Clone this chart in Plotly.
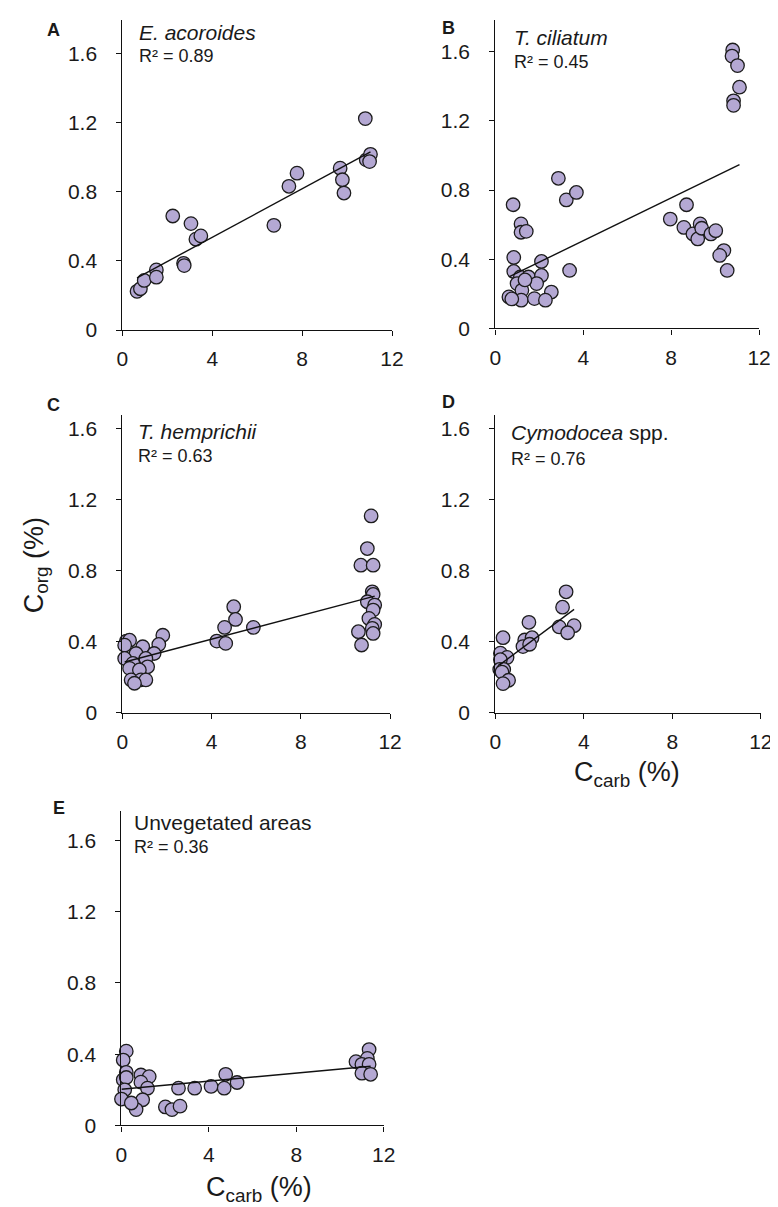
import numpy as np
import plotly.graph_objects as go

# ---------------- data ----------------
# Panel A: E. acoroides
a_x = [0.65, 0.80, 0.97, 1.51, 1.51, 2.24, 2.72, 2.75, 3.05, 3.27, 3.49, 6.74, 7.41, 7.77,
       9.69, 9.79, 9.86, 10.81, 10.85, 11.04, 11.00]
a_y = [0.224, 0.239, 0.287, 0.348, 0.306, 0.66, 0.386, 0.373, 0.616, 0.526, 0.545, 0.606,
       0.832, 0.908, 0.937, 0.870, 0.793, 1.224, 0.985, 1.017, 0.975]

# Panel B: T. ciliatum
b_x = [10.80, 10.77, 11.02, 11.11, 10.84, 10.84,
       2.87, 3.23, 3.69, 3.38,
       0.81, 0.84, 1.17, 1.17, 1.41, 0.84, 1.14, 1.51, 2.10, 2.10, 0.99, 1.88, 1.21, 2.55,
       0.62, 1.18, 1.78, 2.28, 1.35, 0.75,
       7.96, 8.70, 8.58, 8.99, 9.21, 9.32, 9.39, 9.81, 10.03, 10.40, 10.21, 10.55]
b_y = [1.61, 1.575, 1.52, 1.395, 1.316, 1.29,
       0.868, 0.743, 0.786, 0.335,
       0.715, 0.41, 0.604, 0.556, 0.561, 0.329, 0.297, 0.297, 0.306, 0.387, 0.259, 0.259,
       0.220, 0.210, 0.182, 0.163, 0.172, 0.163, 0.28, 0.17,
       0.632, 0.715, 0.584, 0.546, 0.517, 0.604, 0.579, 0.546, 0.565, 0.450, 0.422, 0.335]

# Panel C: T. hemprichii
c_x = [11.15, 10.98, 10.69, 11.24, 11.20, 11.24, 10.98, 11.31, 11.24, 11.05, 11.31, 10.58,
       11.20, 11.24, 10.72,
       4.99, 5.07, 4.58, 5.87, 4.23, 4.63,
       1.81, 1.63, 0.18, 0.32, 0.10, 0.91, 0.61, 1.42, 0.10, 0.47, 1.05, 1.13, 0.32, 0.76,
       0.39, 0.83, 1.05, 0.54]
c_y = [1.109, 0.925, 0.831, 0.831, 0.681, 0.666, 0.625, 0.606, 0.578, 0.531, 0.497, 0.456,
       0.475, 0.446, 0.381,
       0.597, 0.525, 0.480, 0.480, 0.403, 0.390,
       0.436, 0.384, 0.403, 0.408, 0.380, 0.371, 0.333, 0.333, 0.305, 0.277, 0.305, 0.258,
       0.249, 0.240, 0.184, 0.184, 0.184, 0.165]

# Panel D: Cymodocea spp.
d_x = [3.20, 3.04, 1.52, 2.89, 3.56, 3.27, 0.35, 1.33, 1.66, 1.25, 1.55, 0.23, 0.53, 0.23,
       0.20, 0.38, 0.30, 0.60, 0.35]
d_y = [0.681, 0.594, 0.509, 0.483, 0.490, 0.450, 0.422, 0.409, 0.422, 0.372, 0.385, 0.335,
       0.311, 0.298, 0.243, 0.243, 0.228, 0.182, 0.163]

# Panel E: Unvegetated areas
e_x = [0.22, 0.08, 0.22, 0.08, 0.22, 0.89, 1.27, 0.89, 1.19, 0.15, 0.00, 0.97, 0.67, 0.45,
       2.01, 2.31, 2.68, 2.61, 3.35, 4.10, 4.70, 4.77, 5.29,
       11.33, 10.73, 11.25, 11.00, 11.33, 11.00, 11.40]
e_y = [0.417, 0.367, 0.298, 0.256, 0.269, 0.283, 0.274, 0.243, 0.209, 0.200, 0.148, 0.144,
       0.089, 0.126, 0.104, 0.089, 0.108, 0.209, 0.209, 0.219, 0.209, 0.287, 0.241,
       0.426, 0.358, 0.376, 0.343, 0.343, 0.293, 0.287]

panel_letters = ["A", "B", "C", "D", "E"]
species = ["<i>E. acoroides</i>", "<i>T. ciliatum</i>", "<i>T. hemprichii</i>",
           "<i>Cymodocea</i> spp.", "Unvegetated areas"]
r2_labels = ["R² = 0.89", "R² = 0.45", "R² = 0.63", "R² = 0.76", "R² = 0.36"]
x_ticks = [0, 4, 8, 12]
y_ticks = [0, 0.4, 0.8, 1.2, 1.6]
y_ticklabels = ["0", "0.4", "0.8", "1.2", "1.6"]

# ---------------- layout helpers ----------------
W, H = 778, 1207
FONT = "Liberation Sans, Arial, sans-serif"
FILL = "#b4a8d3"
EDGE = "#1c1c1c"
TXT = "#1a1a1a"

def px(x):
    return x / W

def py(y):
    return 1 - y / H

# pixel boxes: (left, right, bottom, top, ymax)
boxes = [
    (111, 387, 325, 11.7, 1.797),
    (492.7, 762.7, 323.3, 11.7, 1.786),
    (111, 385, 711, 411, 1.677),
    (492.7, 764.5, 711, 411, 1.677),
    (110, 378.5, 1127.7, 810, 1.767),
]

datasets = [(a_x, a_y), (b_x, b_y), (c_x, c_y), (d_x, d_y), (e_x, e_y)]

fig = go.Figure()
layout = {}
for i, ((xs, ys), (l, r, b, t, ymax)) in enumerate(zip(datasets, boxes)):
    n = i + 1
    xa = "x" if n == 1 else f"x{n}"
    ya = "y" if n == 1 else f"y{n}"
    fig.add_trace(go.Scatter(
        x=xs, y=ys, mode="markers", xaxis=xa, yaxis=ya, showlegend=False,
        marker=dict(size=13.5, color=FILL, line=dict(color=EDGE, width=1.3)),
        cliponaxis=False))
    # least-squares trend line through the data
    k, c0 = np.polyfit(np.array(xs), np.array(ys), 1)
    lx = np.array([min(xs), max(xs)])
    fig.add_trace(go.Scatter(
        x=lx, y=k * lx + c0, mode="lines", xaxis=xa, yaxis=ya, showlegend=False,
        line=dict(color="#111111", width=1.4)))
    axis_common = dict(showline=True, linecolor="#111111", linewidth=1.3, ticks="outside",
                       ticklen=5, tickcolor="#111111", tickwidth=1.3, showgrid=False,
                       zeroline=False, tickfont=dict(family=FONT, size=21, color=TXT))
    layout["xaxis" if n == 1 else f"xaxis{n}"] = dict(
        domain=[px(l), px(r)], range=[0, 12], tickvals=x_ticks, anchor=ya,
        ticklabelstandoff=5, **axis_common)
    layout["yaxis" if n == 1 else f"yaxis{n}"] = dict(
        domain=[py(b), py(t)], range=[0, ymax], tickvals=y_ticks, ticktext=y_ticklabels,
        anchor=xa, ticklabelstandoff=15, **axis_common)

fig.update_layout(**layout)

annotations = []
letter_pos = [(40, 22), (445, 20), (40, 401), (445, 398), (46, 807)]
species_pos = [(126, 25), (510, 30), (125, 427), (507, 428), (121, 822)]
r2_pos = [(126, 48), (510, 55), (125, 452), (507, 455), (121, 847)]
for i in range(5):
    lx_, ly_ = letter_pos[i]
    annotations.append(dict(x=px(lx_), y=py(ly_), xref="paper", yref="paper",
                            text=f"<b>{panel_letters[i]}</b>", showarrow=False,
                            xanchor="center", yanchor="middle",
                            font=dict(family=FONT, size=18, color=TXT)))
    sx, sy = species_pos[i]
    annotations.append(dict(x=px(sx), y=py(sy), xref="paper", yref="paper",
                            text=species[i], showarrow=False, xanchor="left",
                            yanchor="middle", font=dict(family=FONT, size=21, color=TXT)))
    rx, ry = r2_pos[i]
    annotations.append(dict(x=px(rx), y=py(ry), xref="paper", yref="paper",
                            text=r2_labels[i], showarrow=False, xanchor="left",
                            yanchor="middle", font=dict(family=FONT, size=18, color=TXT)))

# axis titles
annotations.append(dict(x=px(22), y=py(562), xref="paper", yref="paper",
                        text="C<sub>org</sub> (%)", showarrow=False, textangle=-90,
                        xanchor="center", yanchor="middle",
                        font=dict(family=FONT, size=27, color=TXT)))
annotations.append(dict(x=px(628), y=py(773), xref="paper", yref="paper",
                        text="C<sub>carb</sub> (%)", showarrow=False,
                        xanchor="center", yanchor="middle",
                        font=dict(family=FONT, size=27, color=TXT)))
annotations.append(dict(x=px(251), y=py(1192), xref="paper", yref="paper",
                        text="C<sub>carb</sub> (%)", showarrow=False,
                        xanchor="center", yanchor="middle",
                        font=dict(family=FONT, size=27, color=TXT)))

fig.update_layout(
    width=W, height=H, margin=dict(l=0, r=0, t=0, b=0),
    paper_bgcolor="white", plot_bgcolor="white",
    annotations=annotations,
)

fig.write_html("out.html")
